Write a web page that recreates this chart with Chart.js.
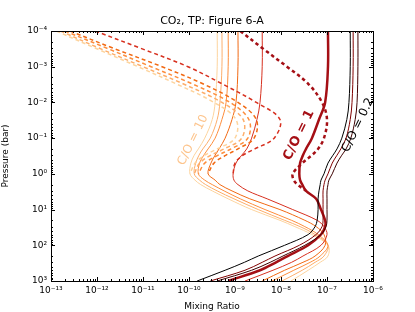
<!DOCTYPE html>
<html>
<head>
<meta charset="utf-8">
<script src="https://cdn.jsdelivr.net/npm/chart.js@4"></script>
<style>
  body { margin: 0; background: #fff; }
</style>
</head>
<body>
<canvas id="grafico" width="415" height="312"></canvas>
<script>
// pressure levels (bar) the profiles were read at
const pressureSolid = [1e-4, 1e-3, 1e-2, 3e-2, 0.1, 0.2, 0.3, 0.5, 1, 1.5, 2, 3, 5, 10, 20, 30, 50, 100, 200, 300, 500, 1000];
const pressureDashed = [1e-4, 3e-4, 1e-3, 3e-3, 1e-2, 3e-2, 0.1, 0.2, 0.3, 0.5, 1];
const pressureDashedCO1 = [1e-4, 3e-4, 1e-3, 3e-3, 1e-2, 3e-2, 0.1, 0.2, 0.3, 0.5, 1, 1.5, 2, 3];

// CO2 mixing ratio, solid profiles
const peachSolid = [4.1e-10, 4.1e-10, 3.7e-10, 3.2e-10, 2.2e-10, 1.6e-10, 1.3e-10, 1.1e-10, 1.05e-10, 1.35e-10, 1.8e-10, 3.2e-10, 7.1e-10, 2.3e-9, 9.5e-9, 2.0e-8, 4.7e-8, 1.05e-7, 1.05e-7, 7.1e-8, 3.9e-8, 1.65e-8];
const lightOrangeSolid = [5.2e-10, 5.2e-10, 4.7e-10, 4.1e-10, 2.9e-10, 2.0e-10, 1.65e-10, 1.4e-10, 1.3e-10, 1.7e-10, 2.3e-10, 4.1e-10, 9.5e-10, 3.2e-9, 1.2e-8, 2.6e-8, 5.5e-8, 1.05e-7, 8.6e-8, 5.5e-8, 2.9e-8, 1.05e-8];
const orangeSolid = [7.1e-10, 7.1e-10, 6.4e-10, 5.2e-10, 3.7e-10, 2.6e-10, 2.1e-10, 1.7e-10, 1.6e-10, 2.2e-10, 3.2e-10, 5.8e-10, 1.3e-9, 4.5e-9, 1.7e-8, 3.3e-8, 6.4e-8, 1.05e-7, 7.1e-8, 4.3e-8, 1.9e-8, 6.4e-9];
const redOrangeSolid = [1.16e-9, 1.16e-9, 1.05e-9, 8.6e-10, 6.1e-10, 4.5e-10, 3.7e-10, 3.0e-10, 2.6e-10, 3.7e-10, 4.7e-10, 8.6e-10, 2.1e-9, 9.5e-9, 3.3e-8, 5.8e-8, 8.6e-8, 9.1e-8, 5.5e-8, 3.0e-8, 1.2e-8, 3.9e-9];
const redSolid = [3.9e-9, 3.9e-9, 3.5e-9, 3.0e-9, 2.3e-9, 1.8e-9, 1.4e-9, 1.05e-9, 9.1e-10, 9.5e-10, 1.16e-9, 1.9e-9, 5.0e-9, 1.8e-8, 6.1e-8, 8.6e-8, 1.0e-7, 7.4e-8, 3.0e-8, 1.7e-8, 6.7e-9, 1.65e-9];
const darkRedSolid = [1.05e-7, 1.05e-7, 9.1e-8, 6.7e-8, 4.7e-8, 3.5e-8, 3.0e-8, 2.6e-8, 2.5e-8, 2.6e-8, 2.9e-8, 3.5e-8, 5.8e-8, 7.4e-8, 9.1e-8, 9.1e-8, 7.4e-8, 3.9e-8, 1.4e-8, 7.8e-9, 3.5e-9, 7.1e-10];
const blackSolid = [3.2e-7, 3.2e-7, 3.0e-7, 2.7e-7, 2.1e-7, 1.65e-7, 1.35e-7, 1.05e-7, 8.6e-8, 7.4e-8, 7.1e-8, 6.7e-8, 6.4e-8, 6.4e-8, 6.1e-8, 5.5e-8, 3.9e-8, 1.2e-8, 3.2e-9, 1.6e-9, 6.1e-10, 1.5e-10];
const maroonSolid = [3.7e-7, 3.7e-7, 3.5e-7, 3.2e-7, 2.6e-7, 2.0e-7, 1.65e-7, 1.3e-7, 1.05e-7, 9.1e-8, 8.6e-8, 8.2e-8, 8.2e-8, 8.2e-8, 8.2e-8, 7.8e-8, 5.8e-8, 2.5e-8, 7.4e-9, 3.9e-9, 1.65e-9, 2.9e-10];
const deepMaroonSolid = [4.7e-7, 4.7e-7, 4.5e-7, 4.1e-7, 3.3e-7, 2.6e-7, 2.1e-7, 1.65e-7, 1.3e-7, 1.1e-7, 1.05e-7, 1.0e-7, 1.0e-7, 1.0e-7, 1.0e-7, 9.5e-8, 7.4e-8, 3.3e-8, 1.1e-8, 5.8e-9, 2.3e-9, 4.1e-10];

// CO2 mixing ratio, dashed profiles (upper atmosphere only, they join the solid ones lower down)
const peachDashed = [1.3e-13, 9.1e-13, 7.8e-12, 5.2e-11, 3.5e-10, 1.05e-9, 1.0e-9, 4.1e-10, 2.2e-10, 1.35e-10, 1.05e-10];
const lightOrangeDashed = [1.6e-13, 1.1e-12, 1.0e-11, 7.4e-11, 5.2e-10, 1.5e-9, 1.4e-9, 5.8e-10, 3.0e-10, 1.7e-10, 1.3e-10];
const orangeDashed = [2.0e-13, 1.6e-12, 1.5e-11, 1.16e-10, 7.8e-10, 2.0e-9, 1.9e-9, 8.2e-10, 4.3e-10, 2.2e-10, 1.6e-10];
const redOrangeDashed = [2.6e-13, 2.2e-12, 2.6e-11, 2.0e-10, 1.16e-9, 2.9e-9, 2.6e-9, 1.16e-9, 6.4e-10, 3.5e-10, 2.6e-10];
const redDashed = [9.1e-13, 8.6e-12, 9.5e-11, 5.2e-10, 2.9e-9, 9.5e-9, 7.1e-9, 2.7e-9, 1.5e-9, 1.0e-9, 9.1e-10];
const darkRedDashed = [1.3e-9, 3.9e-9, 1.35e-8, 3.9e-8, 7.8e-8, 1.0e-7, 8.6e-8, 6.4e-8, 4.7e-8, 2.9e-8, 1.8e-8, 1.9e-8, 2.3e-8, 3.5e-8];

// axes
const xTicks = [1e-13, 1e-12, 1e-11, 1e-10, 1e-9, 1e-8, 1e-7, 1e-6];
const xTickLabels = ['10⁻¹³', '10⁻¹²', '10⁻¹¹', '10⁻¹⁰', '10⁻⁹', '10⁻⁸', '10⁻⁷', '10⁻⁶'];
const yTicks = [1e-4, 1e-3, 1e-2, 1e-1, 1e0, 1e1, 1e2, 1e3];
const yTickLabels = ['10⁻⁴', '10⁻³', '10⁻²', '10⁻¹', '10⁰', '10¹', '10²', '10³'];

// rotated curve labels, placed in data coordinates
const noteTexts = ['C/O = 10', 'C/O = 1', 'C/O = 0.2'];
const noteX = [1.22e-10, 2.46e-8, 4.72e-7];
const noteP = [0.113, 0.082, 0.043];

const chartTitle = 'CO₂, TP: Figure 6-A';
const FONT = "'DejaVu Sans', sans-serif";

function profile(values, pressures, color, width, dash) {
    return {
        data: pressures.map((p, i) => ({ x: values[i], y: p })),
        borderColor: color,
        borderWidth: width,
        borderDash: dash || [],
        pointRadius: 0,
        showLine: true,
        fill: false,
        tension: 0.35
    };
}

// inward ticks on all four sides + frame + title + the rotated labels
const framePlugin = {
    id: 'frame',
    afterDatasetsDraw(chart) {
        const { ctx, chartArea: a, scales: { x, y } } = chart;
        ctx.save();
        ctx.strokeStyle = '#000';
        ctx.lineWidth = 1;
        ctx.beginPath();
        for (let e = -13; e < -6; e++) {
            for (let m = 1; m < 10; m++) {
                const px = Math.round(x.getPixelForValue(m * Math.pow(10, e))) + 0.5;
                const len = m === 1 ? 4 : 2;
                ctx.moveTo(px, a.bottom); ctx.lineTo(px, a.bottom - len);
                ctx.moveTo(px, a.top); ctx.lineTo(px, a.top + len);
            }
        }
        for (let e = -4; e < 3; e++) {
            for (let m = 1; m < 10; m++) {
                const py = Math.round(y.getPixelForValue(m * Math.pow(10, e))) + 0.5;
                const len = m === 1 ? 4 : 2;
                ctx.moveTo(a.left, py); ctx.lineTo(a.left + len, py);
                ctx.moveTo(a.right, py); ctx.lineTo(a.right - len, py);
            }
        }
        ctx.stroke();
        ctx.strokeRect(Math.round(a.left) + 0.5, Math.round(a.top) + 0.5, Math.round(a.right - a.left), Math.round(a.bottom - a.top));

        // title centred over the axes, like the original
        ctx.fillStyle = '#000';
        ctx.font = '11px ' + FONT;
        ctx.textAlign = 'center';
        ctx.textBaseline = 'alphabetic';
        ctx.fillText(chartTitle, (a.left + a.right) / 2, a.top - 7);

        const styles = [
            { color: '#fdc48c', font: '12px ' + FONT },
            { color: '#a50f15', font: 'bold 13px ' + FONT },
            { color: '#000000', font: '12px ' + FONT }
        ];
        noteTexts.forEach((t, i) => {
            ctx.save();
            ctx.translate(x.getPixelForValue(noteX[i]), y.getPixelForValue(noteP[i]));
            ctx.rotate(-64 * Math.PI / 180);
            ctx.font = styles[i].font;
            ctx.fillStyle = styles[i].color;
            ctx.textAlign = 'center';
            ctx.textBaseline = 'middle';
            ctx.fillText(t, 0, 0);
            ctx.restore();
        });
        ctx.restore();
    }
};

document.addEventListener("DOMContentLoaded", () => {
    const ctx = document.getElementById('grafico').getContext('2d');

    new Chart(ctx, {
        type: 'scatter',
        data: {
            datasets: [
                profile(darkRedDashed, pressureDashedCO1, '#a50f15', 2.5, [3.5, 3]),
                profile(redDashed, pressureDashed, '#d7301f', 1.5, [4, 3]),
                profile(redOrangeDashed, pressureDashed, '#f16913', 1.5, [4, 3]),
                profile(orangeDashed, pressureDashed, '#fd8d3c', 1.5, [4, 3]),
                profile(lightOrangeDashed, pressureDashed, '#fdae6b', 1.5, [4, 3]),
                profile(peachDashed, pressureDashed, '#fdd49e', 1.5, [4, 3]),
                profile(blackSolid, pressureSolid, '#000000', 1),
                profile(maroonSolid, pressureSolid, '#800000', 1),
                profile(deepMaroonSolid, pressureSolid, '#3d0000', 1),
                profile(darkRedSolid, pressureSolid, '#a50f15', 2.5),
                profile(redSolid, pressureSolid, '#d7301f', 1),
                profile(redOrangeSolid, pressureSolid, '#f16913', 1),
                profile(orangeSolid, pressureSolid, '#fd8d3c', 1),
                profile(lightOrangeSolid, pressureSolid, '#fdae6b', 1),
                profile(peachSolid, pressureSolid, '#fdd49e', 1)
            ]
        },
        options: {
            responsive: false,
            animation: false,
            layout: { padding: { left: 0, right: 42, top: 31, bottom: 0 } },
            plugins: {
                legend: { display: false },
                tooltip: { enabled: false },
                title: { display: false }
            },
            scales: {
                x: {
                    type: 'logarithmic',
                    min: 1e-13,
                    max: 1e-6,
                    afterBuildTicks: s => { s.ticks = xTicks.map(v => ({ value: v })); },
                    afterFit: s => { s.height = 31; },
                    ticks: {
                        callback: (v, i) => xTickLabels[i],
                        color: '#000',
                        font: { family: FONT, size: 9 },
                        maxRotation: 0,
                        autoSkip: false,
                        padding: 4
                    },
                    grid: { display: false, drawTicks: false },
                    border: { display: false },
                    title: {
                        display: true,
                        text: 'Mixing Ratio',
                        color: '#000',
                        font: { family: FONT, size: 9 },
                        padding: { top: 1, bottom: 0 }
                    }
                },
                y: {
                    type: 'logarithmic',
                    reverse: true,
                    min: 1e-4,
                    max: 1e3,
                    afterBuildTicks: s => { s.ticks = yTicks.map(v => ({ value: v })); },
                    afterFit: s => { s.width = 51; },
                    ticks: {
                        callback: (v, i) => yTickLabels[i],
                        color: '#000',
                        font: { family: FONT, size: 9 },
                        autoSkip: false,
                        padding: 4
                    },
                    grid: { display: false, drawTicks: false },
                    border: { display: false },
                    title: {
                        display: true,
                        text: 'Pressure (bar)',
                        color: '#000',
                        font: { family: FONT, size: 9 },
                        padding: { top: 0, bottom: 2 }
                    }
                }
            }
        },
        plugins: [framePlugin]
    });
});
</script>
</body>
</html>
